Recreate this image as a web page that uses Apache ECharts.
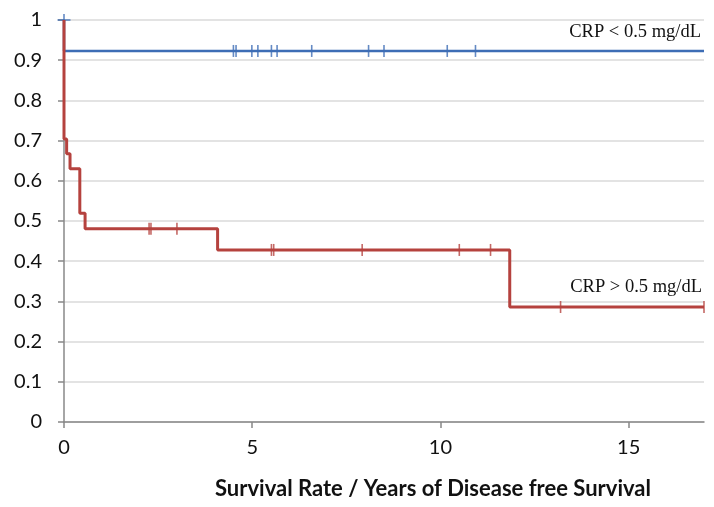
<!DOCTYPE html>
<html>
<head>
<meta charset="utf-8">
<script src="https://cdn.jsdelivr.net/npm/echarts@6/dist/echarts.min.js"></script>
<style>html,body{margin:0;padding:0;background:#fff}#c{width:714px;height:507px}</style>
</head>
<body>
<div id="c"></div>
<script>
// Kaplan-Meier step data (time in years, survival fraction)
const lowTimes = [0, 0, 17];
const lowSurv = [1, 0.923, 0.923];
const lowCensorTimes = [4.50, 4.57, 4.99, 5.15, 5.51, 5.66, 6.58, 8.09, 8.50, 10.18, 10.93];
const lowStartCensor = [0, 1];

const highTimes = [0, 0, 0.07, 0.16, 0.42, 0.56, 4.08, 11.84, 17];
const highSurv = [1, 0.704, 0.667, 0.630, 0.519, 0.481, 0.428, 0.286, 0.286];
const highCensorTimes = [2.26, 2.31, 3.0, 5.51, 5.57, 7.92, 10.5, 11.33, 13.19, 17.0];

const xTicks = [0, 5, 10, 15];
const yTicks = [0, 0.1, 0.2, 0.3, 0.4, 0.5, 0.6, 0.7, 0.8, 0.9, 1];

const labelLow = 'CRP < 0.5 mg/dL';
const labelHigh = 'CRP > 0.5 mg/dL';
const xTitle = 'Survival Rate / Years of Disease free Survival';

const BLUE = '#3D6DB5';
const RED = '#B5423E';

function stepValue(times, surv, t) {
  let v = surv[0];
  for (let i = 0; i < times.length; i++) { if (times[i] <= t) v = surv[i]; }
  return v;
}
const zip = (a, b) => a.map((x, i) => [x, b[i]]);

const chart = echarts.init(document.getElementById('c'));
chart.setOption({
  animation: false,
  grid: { left: 64, right: 10, top: 20, bottom: 85, containLabel: false },
  xAxis: {
    type: 'value', min: 0, max: 17, interval: 5,
    axisLine: { show: true, onZero: false, lineStyle: { color: '#888', width: 1.5 } },
    axisTick: { show: true, length: 6, customValues: xTicks, lineStyle: { color: '#888', width: 1.5 } },
    axisLabel: { fontFamily: 'Lato', fontSize: 20, color: '#111', margin: 16, customValues: xTicks,
      formatter: v => String(v) },
    splitLine: { show: false }
  },
  yAxis: {
    type: 'value', min: 0, max: 1, interval: 0.1,
    axisLine: { show: true, lineStyle: { color: '#888', width: 1.5 } },
    axisTick: { show: true, length: 6, lineStyle: { color: '#888', width: 1.5 } },
    axisLabel: { fontFamily: 'Lato', fontSize: 20, color: '#111', margin: 22,
      formatter: v => { const t = yTicks.find(y => Math.abs(y - v) < 1e-6); return t === undefined ? '' : String(t); } },
    splitLine: { show: true, lineStyle: { color: '#DADADA', width: 1.5 } }
  },
  series: [
    { type: 'line', step: 'end', data: zip(lowTimes, lowSurv), showSymbol: false,
      lineStyle: { color: BLUE, width: 2.5 }, z: 3 },
    { type: 'scatter', data: lowCensorTimes.map(t => [t, stepValue(lowTimes, lowSurv, t)]),
      symbol: 'rect', symbolSize: [1.6, 12], itemStyle: { color: BLUE }, z: 4 },
    { type: 'scatter', data: [lowStartCensor], symbol: 'rect', symbolSize: [1.6, 12], itemStyle: { color: BLUE }, z: 4 },
    { type: 'scatter', data: [lowStartCensor], symbol: 'rect', symbolSize: [13, 1.6], itemStyle: { color: BLUE }, z: 4 },
    { type: 'line', step: 'end', data: zip(highTimes, highSurv), showSymbol: false,
      lineStyle: { color: RED, width: 3 }, z: 5 },
    { type: 'scatter', data: highCensorTimes.map(t => [t, stepValue(highTimes, highSurv, t)]),
      symbol: 'rect', symbolSize: [1.6, 12], itemStyle: { color: RED }, z: 6 }
  ],
  graphic: [
    { type: 'text', right: 13, top: 23, style: { text: labelLow, font: '18.5px "Liberation Serif"', fill: '#111' } },
    { type: 'text', right: 12, top: 278, style: { text: labelHigh, font: '18.5px "Liberation Serif"', fill: '#111' } },
    { type: 'text', left: 215, top: 478, style: { text: xTitle, font: 'bold 22px Lato', fill: '#111' } }
  ]
});
</script>
</body>
</html>
